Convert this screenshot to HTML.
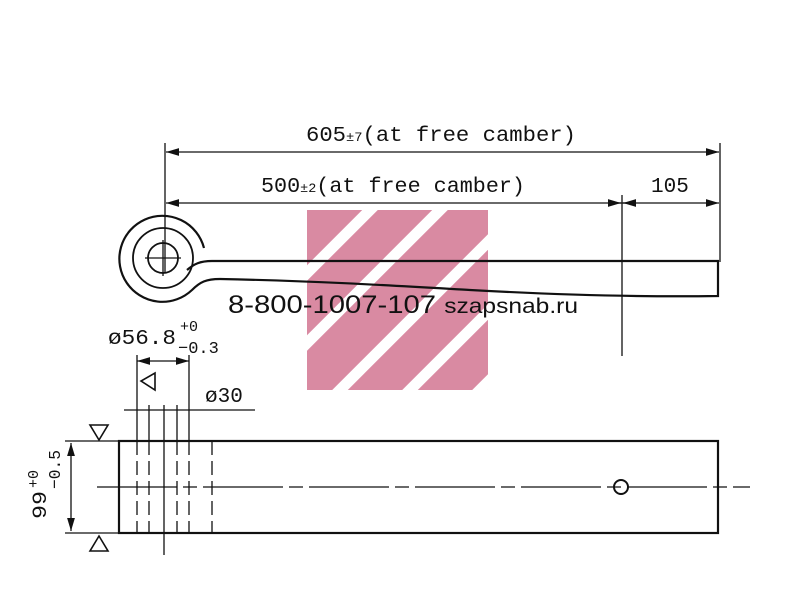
<!DOCTYPE html>
<html><head><style>body{margin:0;background:#fff}svg{display:block}</style></head><body>
<svg width="800" height="606" viewBox="0 0 800 606" xmlns="http://www.w3.org/2000/svg">
<defs>
<clipPath id="wm"><rect x="307" y="210" width="181" height="180"/></clipPath>
<marker id="a" viewBox="0 0 10 6" refX="10" refY="3" markerWidth="10" markerHeight="6" orient="auto-start-reverse"><path d="M0,0L10,3L0,6Z" fill="#111"/></marker>
</defs>
<g clip-path="url(#wm)">
<rect x="307" y="210" width="181" height="180" fill="#d98aa2"/>
<g stroke="#fff" stroke-width="11">
<line x1="200" y1="380" x2="380" y2="200"/>
<line x1="250" y1="400" x2="450" y2="200"/>
<line x1="320" y1="410" x2="530" y2="200"/>
<line x1="380" y1="420" x2="560" y2="240"/>
<line x1="440" y1="430" x2="560" y2="310"/>
</g>
</g>
<g fill="none" stroke="#111" stroke-width="1.3">
<line x1="165" y1="143" x2="165" y2="272"/>
<line x1="720" y1="143" x2="720" y2="262"/>
<line x1="622" y1="195" x2="622" y2="356"/>
<line x1="166" y1="152" x2="719" y2="152" marker-start="url(#a)" marker-end="url(#a)"/>
<line x1="166" y1="203" x2="719" y2="203" marker-start="url(#a)" marker-end="url(#a)"/>
<line x1="610" y1="203" x2="621" y2="203" marker-end="url(#a)"/>
<line x1="634" y1="203" x2="623" y2="203" marker-end="url(#a)"/>
<path d="M204,248 A43,43 0 1 0 192,290 C200,282 206,279 220,279 C320,281 400,286 470,290 C560,295 650,297 718,296 L718,261 L212,261 C200,261 194,264 187,270" stroke-width="2.2"/>
<circle cx="163" cy="258" r="30" stroke-width="1.8"/>
<circle cx="163" cy="258" r="15" stroke-width="1.8"/>
<line x1="145" y1="258" x2="181" y2="258"/>
<line x1="163" y1="240" x2="163" y2="276"/>
<rect x="119" y="441" width="599" height="92" stroke-width="2.2"/>
<line x1="97" y1="487" x2="750" y2="487" stroke-dasharray="80,6,14,6"/>
<circle cx="621" cy="487" r="7" stroke-width="2"/>
<line x1="137" y1="355" x2="137" y2="441"/>
<line x1="189" y1="355" x2="189" y2="441"/>
<line x1="149" y1="405" x2="149" y2="441"/>
<line x1="177" y1="405" x2="177" y2="441"/>
<g stroke-dasharray="14,6"><line x1="137" y1="441" x2="137" y2="533"/><line x1="149" y1="441" x2="149" y2="533"/><line x1="177" y1="441" x2="177" y2="533"/><line x1="189" y1="441" x2="189" y2="533"/><line x1="212" y1="441" x2="212" y2="533"/></g>
<line x1="164" y1="405" x2="164" y2="555"/>
<line x1="137" y1="361" x2="189" y2="361" marker-start="url(#a)" marker-end="url(#a)"/>
<line x1="124" y1="410" x2="255" y2="410"/>
<line x1="71" y1="443" x2="71" y2="531" marker-start="url(#a)" marker-end="url(#a)"/>
<line x1="65" y1="441" x2="119" y2="441"/>
<line x1="65" y1="533" x2="119" y2="533"/>
<path d="M90,425 L108,425 L99,440Z" stroke-width="1.6"/>
<path d="M90,551 L108,551 L99,536Z" stroke-width="1.6"/>
<path d="M155,373 L155,390 L141,381Z" stroke-width="1.6"/>
</g>
<g font-family="Liberation Mono, monospace" fill="#111">
<text x="306" y="141" font-size="21" textLength="270" lengthAdjust="spacingAndGlyphs">605<tspan font-size="13">±7</tspan>(at free camber)</text>
<text x="261" y="192" font-size="21" textLength="264" lengthAdjust="spacingAndGlyphs">500<tspan font-size="13">±2</tspan>(at free camber)</text>
<text x="651" y="192" font-size="21">105</text>
<text x="108" y="344" font-size="21" textLength="68" lengthAdjust="spacingAndGlyphs">ø56.8</text>
<text x="180" y="331" font-size="15">+0</text>
<text x="178" y="353" font-size="17">−0.3</text>
<text x="205" y="402" font-size="21">ø30</text>
<text transform="translate(46,519) rotate(-90)" font-size="20" textLength="28" lengthAdjust="spacingAndGlyphs">99</text>
<text transform="translate(38,488) rotate(-90)" font-size="15">+0</text>
<text transform="translate(60,489) rotate(-90)" font-size="17" textLength="39" lengthAdjust="spacingAndGlyphs">−0.5</text>
</g>
<text x="228" y="313" font-family="Liberation Sans, sans-serif" font-size="25" fill="#111" textLength="350" lengthAdjust="spacingAndGlyphs">8-800-1007-107 <tspan font-size="21">szapsnab.ru</tspan></text>
</svg>
</body></html>
